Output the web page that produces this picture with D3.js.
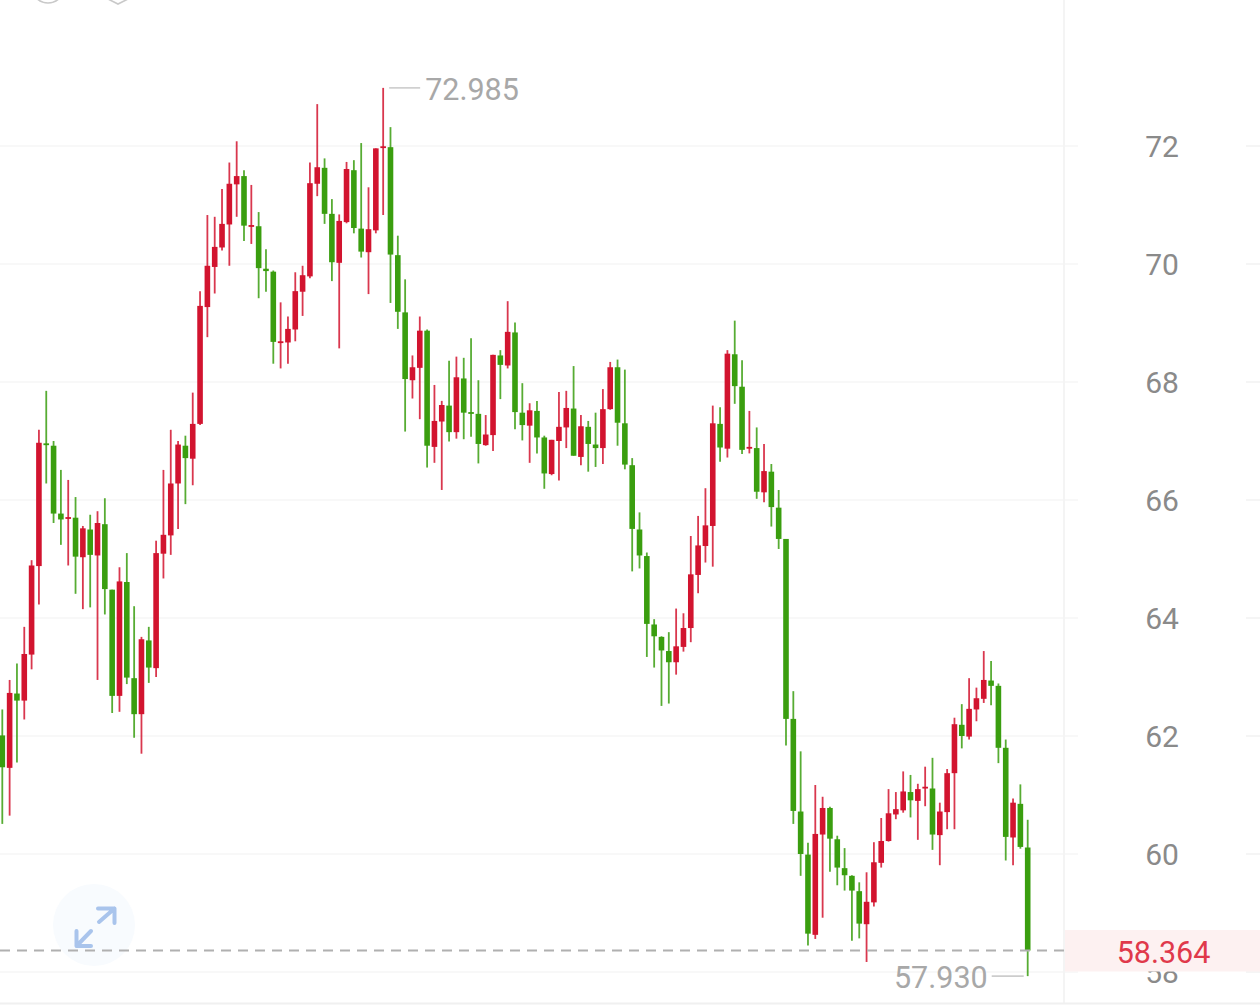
<!DOCTYPE html>
<html>
<head>
<meta charset="utf-8">
<script src="https://cdn.jsdelivr.net/npm/d3@7/dist/d3.min.js"></script>
<style>
html,body{margin:0;padding:0;background:#fff;overflow:hidden}
svg{display:block;font-family:Roboto,sans-serif}
</style>
</head>
<body>
<svg id="chart" width="1260" height="1008"></svg>
<script>
// Session prices, oldest first.
const opens = [62.01,61.46,62.72,62.60,63.38,64.88,66.96,66.92,65.77,65.68,65.70,65.03,65.50,65.06,65.59,64.48,62.68,64.61,62.98,62.37,63.62,63.15,65.09,65.40,66.28,66.92,66.70,67.29,69.27,69.95,70.28,70.67,71.35,71.49,70.63,70.64,69.92,69.87,68.67,68.67,68.89,69.53,69.79,71.36,71.63,70.85,70.02,70.71,71.59,70.60,70.20,70.57,71.97,71.98,70.15,69.18,68.03,68.24,68.87,66.90,67.33,67.60,67.15,68.06,67.49,67.46,66.93,67.10,68.45,68.28,68.84,67.48,67.26,67.51,67.06,66.44,67.00,67.23,67.55,66.73,67.24,66.94,66.88,67.54,68.25,67.30,66.59,65.50,65.05,63.89,63.68,63.44,63.25,63.51,63.83,64.73,65.22,65.56,67.29,66.87,68.47,67.92,66.87,66.88,66.13,66.48,65.87,65.34,62.29,60.72,59.99,58.63,60.33,60.78,60.25,59.76,59.63,59.37,58.81,59.18,59.85,60.22,60.67,60.74,61.05,60.90,61.11,61.11,60.32,60.71,61.37,62.19,61.99,62.45,62.63,62.94,62.85,61.80,60.28,60.85,60.11];
const highs = [62.45,62.95,63.23,63.85,64.98,67.19,67.85,67.00,66.51,66.34,66.05,65.56,65.75,65.81,66.03,64.48,64.86,65.10,64.20,63.68,63.85,65.31,66.51,67.19,67.00,67.09,67.82,69.54,70.83,70.80,71.27,71.72,72.08,71.59,71.34,70.88,70.25,69.89,69.35,69.11,69.86,69.97,71.72,72.71,71.79,71.10,70.84,71.73,71.76,72.05,71.30,71.96,72.985,72.32,70.48,69.74,68.45,69.11,68.89,67.95,67.68,68.36,68.43,68.41,68.74,68.03,67.44,68.46,68.54,69.37,69.01,67.98,67.64,67.68,67.09,67.02,67.83,67.85,68.27,67.44,67.34,67.48,67.88,68.34,68.38,68.21,66.71,65.79,65.11,63.98,63.69,63.76,64.16,64.08,65.39,65.73,66.20,67.60,67.57,68.54,69.04,68.37,67.51,67.23,66.95,66.61,66.17,65.34,62.76,61.74,60.19,61.17,60.97,60.80,60.31,60.10,59.64,59.52,59.69,60.20,60.61,61.10,61.05,61.40,61.34,61.19,61.48,61.63,60.87,61.44,62.31,62.54,62.98,62.82,63.44,63.27,62.89,61.94,60.94,61.18,60.58];
const lows = [60.51,60.65,61.55,62.28,63.13,64.23,66.28,65.61,65.24,64.89,64.41,64.15,64.18,62.95,64.06,62.39,62.41,62.88,61.97,61.70,62.90,63.00,64.67,65.07,65.51,65.93,66.25,67.27,68.76,69.50,70.23,69.97,70.80,70.39,70.34,69.42,69.53,68.31,68.23,68.31,68.69,69.12,69.76,71.15,70.68,69.71,68.57,70.69,70.52,70.11,69.49,70.52,70.83,69.34,68.90,67.16,67.72,67.37,66.55,66.63,66.17,66.99,67.04,67.03,67.07,66.62,66.92,66.83,67.71,68.23,67.20,67.01,66.63,66.79,66.19,66.42,66.33,66.88,66.75,66.59,66.48,66.56,66.61,67.53,66.92,66.52,64.79,64.84,63.34,63.16,62.51,62.55,63.04,63.43,63.59,64.42,64.94,64.87,66.65,66.72,67.63,66.78,66.79,66.02,65.96,65.55,65.17,61.84,60.51,59.63,58.45,58.56,58.92,59.70,59.47,59.38,58.53,58.57,58.17,59.11,59.77,60.21,60.59,60.70,60.62,60.24,60.81,60.07,59.81,60.42,60.42,61.79,61.94,62.25,62.56,62.52,61.54,59.89,59.81,60.09,57.93];
const closes = [61.47,62.73,62.60,63.39,64.89,66.97,66.93,65.77,65.67,65.71,65.04,65.52,65.07,65.61,64.49,62.68,64.62,62.99,62.37,63.64,63.16,65.10,65.41,66.28,66.94,66.71,67.29,69.29,69.97,70.29,70.68,71.36,71.49,70.65,70.66,69.93,69.88,68.68,68.69,68.90,69.54,69.81,71.37,71.64,70.85,70.03,70.73,71.61,70.61,70.21,70.59,71.96,71.995,70.16,69.19,68.05,68.25,68.87,66.92,67.34,67.61,67.15,68.08,67.48,67.46,66.95,67.11,68.46,68.29,68.85,67.49,67.27,67.52,67.06,66.45,67.02,67.24,67.56,66.75,67.25,66.95,66.88,67.54,68.25,67.31,66.60,65.51,65.06,63.90,63.69,63.45,63.25,63.52,63.83,64.74,65.23,65.57,67.30,66.89,68.48,67.93,66.85,66.90,66.14,66.49,65.88,65.34,62.29,60.73,60.00,58.65,60.34,60.78,60.26,59.77,59.64,59.38,58.82,59.19,59.86,60.22,60.69,60.76,61.06,60.91,61.10,61.14,60.33,60.72,61.37,62.20,62.00,62.46,62.64,62.95,62.85,61.80,60.29,60.87,60.12,58.364];

const priceTicks = [72,70,68,66,64,62,60,58];
const lastPrice = 58.364;
const peakPrice = 72.985;
const troughPrice = 57.93;

const upColor = "#d2142f", downColor = "#3a9e0f";

const svg = d3.select("#chart");
const y = d3.scaleLinear().domain([72,60]).range([146,854]);
const x = d3.scaleLinear().domain([0,opens.length-1]).range([2.3,1027.7]);
const gutterX = 1064;

// Horizontal grid, with a short stub at the far right of each level.
const grid = svg.append("g");
grid.selectAll("line.major").data(priceTicks).join("line")
  .attr("x1",0).attr("x2",1078).attr("y1",d=>y(d)).attr("y2",d=>y(d))
  .attr("stroke","#f6f6f6").attr("stroke-width",1.6);
grid.selectAll("line.stub").data(priceTicks).join("line")
  .attr("x1",1246).attr("x2",1260).attr("y1",d=>y(d)).attr("y2",d=>y(d))
  .attr("stroke","#f3f3f3").attr("stroke-width",1.6);

// Frame of the chart area.
svg.append("line").attr("x1",gutterX).attr("x2",gutterX).attr("y1",0).attr("y2",1003)
  .attr("stroke","#f3f3f3").attr("stroke-width",1.8);
svg.append("line").attr("x1",0).attr("x2",1260).attr("y1",1003.5).attr("y2",1003.5)
  .attr("stroke","#f0f0f0").attr("stroke-width",2);

// Toolbar icons cut off by the top edge.
svg.append("circle").attr("cx",48).attr("cy",-13).attr("r",16)
  .attr("fill","none").attr("stroke","#c9c9c9").attr("stroke-width",1.6);
svg.append("path").attr("d",d3.line()([[106,-6],[130,-6],[130,-2],[118,4],[106,-2]]))
  .attr("fill","none").attr("stroke","#c9c9c9").attr("stroke-width",1.6);

// Expand control.
svg.append("circle").attr("cx",94).attr("cy",925).attr("r",41).attr("fill","#f8fbfe");
const arrow = svg.append("g").attr("fill","none").attr("stroke","#a9c4ec")
  .attr("stroke-width",4).attr("stroke-linecap","round").attr("stroke-linejoin","round");
arrow.append("path").attr("d","M99 922L114.500 908.500M98 908.500H114.500V923");
arrow.append("path").attr("d","M91 931L76.500 946M76.500 931V946H91");

// Wicks first, then bodies.
const candles = opens.map((o,i)=>({i,o,h:highs[i],l:lows[i],c:closes[i]}));
const tone = d => d.c >= d.o ? upColor : downColor;
svg.append("g").selectAll("line").data(candles).join("line")
  .attr("x1",d=>x(d.i)).attr("x2",d=>x(d.i))
  .attr("y1",d=>y(d.h)).attr("y2",d=>y(d.l))
  .attr("stroke",tone).attr("stroke-opacity",0.85).attr("stroke-width",1.8);
svg.append("g").selectAll("rect").data(candles).join("rect")
  .attr("x",d=>x(d.i)-2.8).attr("width",5.6)
  .attr("y",d=>y(Math.max(d.o,d.c)))
  .attr("height",d=>Math.max(1.8,Math.abs(y(d.o)-y(d.c))))
  .attr("fill",tone);

// Last-price marker.
svg.append("line").attr("x1",0).attr("x2",gutterX)
  .attr("y1",y(lastPrice)).attr("y2",y(lastPrice))
  .attr("stroke","#b0b0b0").attr("stroke-width",2.2).attr("stroke-dasharray","10 7");

// Price axis labels.
const axis = svg.append("g").attr("transform","translate(1162,1)")
  .call(d3.axisRight(y).tickValues(priceTicks).tickSize(0).tickPadding(0).tickFormat(d3.format("d")));
axis.select(".domain").remove();
axis.selectAll("text").attr("x",0).attr("text-anchor","middle")
  .attr("fill","#8a8a8a").style("font-size","30px").style("font-family","Roboto,sans-serif");

// Last-price tag sits over the axis, hiding part of the lowest label.
const lastY = y(lastPrice);
svg.append("rect").attr("x",gutterX+1).attr("y",lastY-20.5).attr("width",1260-gutterX).attr("height",41.5)
  .attr("fill","#fdf1f1");
svg.append("text").attr("x",1163.500).attr("y",lastY+1.5).attr("dy","0.35em").attr("text-anchor","middle")
  .attr("fill","#e0394b").style("font-size","30.5px").text(d3.format(".3f")(lastPrice));

// Extreme callouts.
const peakIdx = highs.indexOf(peakPrice), troughIdx = lows.indexOf(troughPrice);
svg.append("line").attr("x1",x(peakIdx)+6).attr("x2",x(peakIdx)+37)
  .attr("y1",y(peakPrice)).attr("y2",y(peakPrice)).attr("stroke","#cccccc").attr("stroke-width",1.6);
svg.append("text").attr("x",x(peakIdx)+42).attr("y",y(peakPrice)+1).attr("dy","0.35em")
  .attr("fill","#a8a8a8").style("font-size","30.5px").text(d3.format(".3f")(peakPrice));
svg.append("line").attr("x1",x(troughIdx)-36).attr("x2",x(troughIdx)-4)
  .attr("y1",y(troughPrice)).attr("y2",y(troughPrice)).attr("stroke","#cccccc").attr("stroke-width",1.6);
svg.append("text").attr("x",x(troughIdx)-40).attr("y",y(troughPrice)+1).attr("dy","0.35em").attr("text-anchor","end")
  .attr("fill","#a8a8a8").style("font-size","30.5px").text(d3.format(".3f")(troughPrice));
</script>
</body>
</html>
